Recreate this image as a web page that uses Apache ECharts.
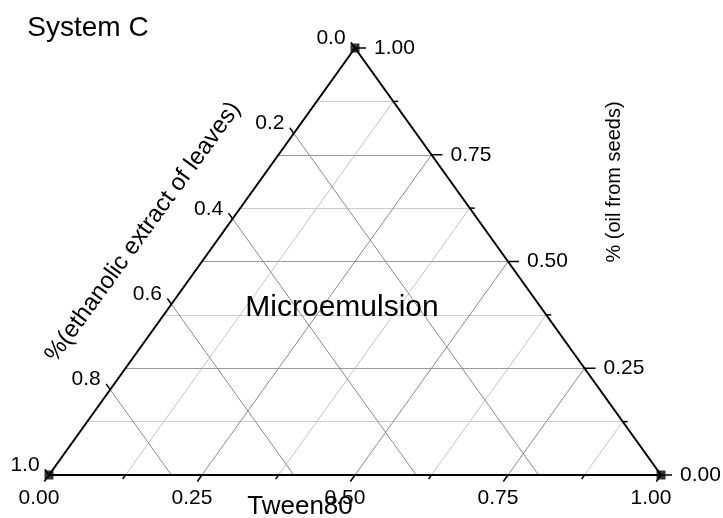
<!DOCTYPE html>
<html><head><meta charset="utf-8">
<script src="https://cdn.jsdelivr.net/npm/echarts@6/dist/echarts.min.js"></script>
<style>html,body{margin:0;padding:0;background:#fff}#c{width:723px;height:518px}</style>
</head><body><div id="c"></div>
<script>
const chartTitle = 'System C';
const regionLabel = 'Microemulsion';
const bottomTitle = 'Tween80';
const leftTitle = '%(ethanolic extract of leaves)';
const rightTitle = '% (oil from seeds)';

// bottom axis: Tween80 fraction
const bottomMajor = [0, 0.25, 0.5, 0.75, 1];
const bottomMinor = [0.125, 0.375, 0.625, 0.875];
const bottomLabels = ['0.00', '0.25', '0.50', '0.75', '1.00'];
// right axis: oil from seeds fraction
const rightMajor = [0, 0.25, 0.5, 0.75, 1];
const rightMinor = [0.125, 0.375, 0.625, 0.875];
const rightLabels = ['0.00', '0.25', '0.50', '0.75', '1.00'];
// left axis: ethanolic extract fraction
const leftMajor = [0, 0.2, 0.4, 0.6, 0.8, 1];
const leftLabels = ['0.0', '0.2', '0.4', '0.6', '0.8', '1.0'];
// triangle corners as [tween, oil]
const corners = [[0, 0], [1, 0], [0, 1]];

const FONT = '"Liberation Sans", Arial, sans-serif';

// ternary (tween u, oil w) -> cartesian
function tern(u, w) { return [u + w / 2, w]; }

function seg(a, b) { return { coords: [a, b] }; }

const gridInner = (arr) => arr.filter(v => v > 0 && v < 1);

function linesSeries(data, color, width, z) {
  return { type: 'lines', coordinateSystem: 'cartesian2d', polyline: false, silent: true, z: z || 2,
    lineStyle: { color: color, width: width, opacity: 1, type: 'solid' }, data: data };
}

// grid line groups
const oilMajorLines = gridInner(rightMajor).map(w => seg(tern(0, w), tern(1 - w, w)));
const oilMinorLines = rightMinor.map(w => seg(tern(0, w), tern(1 - w, w)));
const tweenMajorLines = gridInner(bottomMajor).map(u => seg(tern(u, 0), tern(u, 1 - u)));
const tweenMinorLines = bottomMinor.map(u => seg(tern(u, 0), tern(u, 1 - u)));
const extractLines = gridInner(leftMajor).map(v => seg(tern(0, 1 - v), tern(1 - v, 0)));
const edgeLines = [seg(tern(0,0), tern(1,0)), seg(tern(1,0), tern(0,1)), seg(tern(0,1), tern(0,0))];

// point on an axis, and a point slightly inward along its grid line (for tick direction)
function axisPts(kind, val) {
  if (kind === 'bottom') return [tern(val, 0), tern(val, 0.1)];
  if (kind === 'right') return [tern(1 - val, val), tern(1 - val - 0.1, val)];
  return [tern(0, 1 - val), tern(0.1, 1 - val - 0.1)]; // left (extract v): constant v line
}

function tickSeries(kind, values, len) {
  return {
    type: 'custom', coordinateSystem: 'cartesian2d', clip: false, silent: true, z: 4,
    data: values.map(v => [v, 0]),
    renderItem: function (params, api) {
      const val = api.value(0);
      const pts = axisPts(kind, val);
      const p = api.coord(pts[0]);
      const q = api.coord(pts[1]);
      let dx = p[0] - q[0], dy = p[1] - q[1];
      const n = Math.sqrt(dx * dx + dy * dy); dx /= n; dy /= n;
      return { type: 'line', shape: { x1: p[0], y1: p[1], x2: p[0] + dx * len, y2: p[1] + dy * len },
        style: { stroke: '#000', lineWidth: 1.5 } };
    }
  };
}

function labelSeries(kind, values, labels, dx, dy, align) {
  return {
    type: 'custom', coordinateSystem: 'cartesian2d', clip: false, silent: true, z: 5,
    data: values.map((v, i) => [v, i]),
    renderItem: function (params, api) {
      const val = api.value(0);
      const p = api.coord(axisPts(kind, val)[0]);
      return { type: 'text', x: p[0] + dx, y: p[1] + dy,
        style: { text: labels[params.dataIndex], fill: '#000', font: '21px ' + FONT,
          align: align, verticalAlign: 'middle' } };
    }
  };
}

const chart = echarts.init(document.getElementById('c'), null, { renderer: 'canvas' });
chart.setOption({
  animation: false,
  backgroundColor: '#fff',
  grid: { left: 49, top: 48, width: 612, height: 427 },
  xAxis: { type: 'value', min: 0, max: 1, show: false },
  yAxis: { type: 'value', min: 0, max: 1, show: false },
  graphic: [
    { type: 'text', x: 88, y: 28, style: { text: chartTitle, font: '28px ' + FONT, fill: '#000', align: 'center', verticalAlign: 'middle' } },
    { type: 'text', x: 342, y: 308, style: { text: regionLabel, font: '30px ' + FONT, fill: '#000', align: 'center', verticalAlign: 'middle' }, z: 10 },
    { type: 'text', x: 300, y: 507, style: { text: bottomTitle, font: '26px ' + FONT, fill: '#000', align: 'center', verticalAlign: 'middle' }, z: 10 },
    { type: 'text', x: 143, y: 232, rotation: 54 * Math.PI / 180, style: { text: leftTitle, font: '24px ' + FONT, fill: '#000', align: 'center', verticalAlign: 'middle' } },
    { type: 'text', x: 614, y: 182, rotation: Math.PI / 2, style: { text: rightTitle, font: '20px ' + FONT, fill: '#000', align: 'center', verticalAlign: 'middle' } }
  ],
  series: [
    linesSeries(oilMinorLines, '#cccccc', 1),
    linesSeries(tweenMinorLines, '#c4c4c4', 1),
    linesSeries(oilMajorLines, '#9a9a9a', 1),
    linesSeries(tweenMajorLines, '#8a8a8a', 1),
    linesSeries(extractLines, '#8a8a8a', 1),
    linesSeries(edgeLines, '#000000', 2, 3),
    tickSeries('bottom', bottomMajor, 8),
    tickSeries('bottom', bottomMinor, 5),
    tickSeries('right', rightMajor, 11),
    tickSeries('right', rightMinor, 5),
    tickSeries('left', leftMajor, 7),
    labelSeries('bottom', bottomMajor, bottomLabels, -10, 23, 'center'),
    labelSeries('right', rightMajor, rightLabels, 19, 0, 'left'),
    labelSeries('left', leftMajor, leftLabels, -24, -10, 'center'),
    { type: 'scatter', silent: true, z: 6, symbol: 'rect', symbolSize: 9,
      itemStyle: { color: '#000' }, data: corners.map(c => tern(c[0], c[1])) }
  ]
});
</script>
</body></html>
